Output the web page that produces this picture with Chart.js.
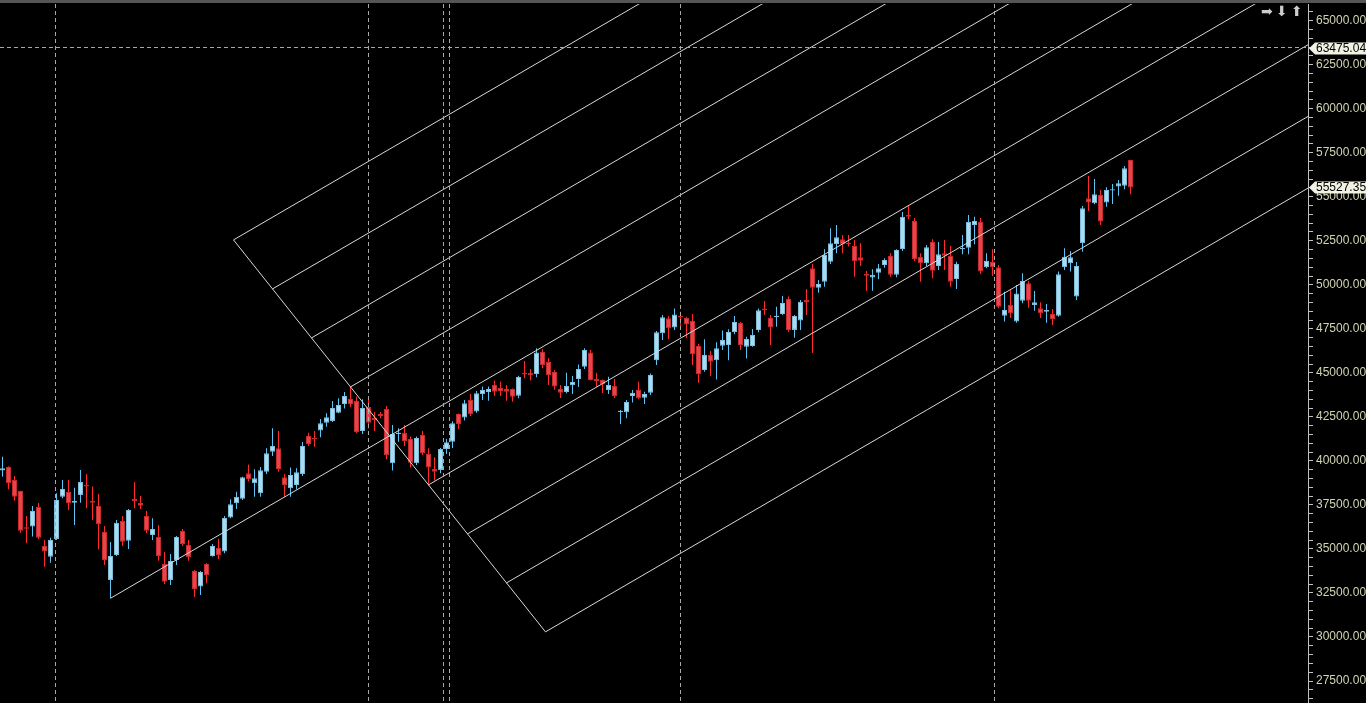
<!DOCTYPE html>
<html lang="en">
<head>
<meta charset="UTF-8">
<title>Candlestick chart with Fibonacci channel</title>
<script src="https://cdn.jsdelivr.net/npm/chart.js@4.4.1/dist/chart.umd.min.js"></script>
<style>
  html, body { margin: 0; padding: 0; background: #000; overflow: hidden; }
  #topBar { position: absolute; left: 0; top: 0; width: 1366px; height: 3px; background: #555555; }
  #chartBox { position: absolute; left: 0; top: 4px; width: 1366px; height: 699px; }
  .nav { position: absolute; top: 3px; color: #cccccc; font: 14px "DejaVu Sans"; line-height: 16px; }
</style>
</head>
<body>
<div id="topBar"></div>
<div id="chartBox"><canvas id="priceChart"></canvas></div>
<span class="nav" style="left:1261px">➡</span>
<span class="nav" style="left:1276px">⬇</span>
<span class="nav" style="left:1291px">⬆</span>
<script>
// OHLC per bar (bar 0 = leftmost)
const opens = [39450,39660,38920,38290,36230,36270,37380,35170,34560,35570,37960,38240,37630,38070,38630,37720,37440,35960,33240,34660,
  36590,35470,37850,37610,36870,35790,35680,34150,33240,34370,36020,35230,33750,32860,34150,34600,35060,34850,36780,37590,
  37850,39300,38730,38160,39390,40520,40720,39070,38450,38630,39260,41420,41300,41720,42170,42270,42740,43230,43520,43400,
  41700,43060,42440,42670,42950,39870,41530,41600,41250,39870,41470,40390,39540,39490,40670,41090,42670,42470,43460,42800,
  43800,43910,44310,44140,44080,44080,43700,45010,45010,44940,46190,45620,45050,44080,43910,44290,44650,45350,46150,44650,
  44600,44030,44250,42780,42760,43690,44060,43590,43870,45710,47250,48100,47570,48230,48120,47950,46530,45160,46010,45710,
  46540,46580,47320,47830,46480,46520,47440,48660,48120,48160,48340,49200,47440,47980,49140,50940,49840,50180,51310,52320,
  52590,52390,52210,51560,50620,50420,50690,51120,51640,50570,52040,53970,53630,51580,51220,52430,51070,51790,51640,50330,
  52020,52110,53400,53570,51000,51300,51000,48250,48860,47910,49100,50090,48860,48670,48470,48340,48250,51000,51220,49330,
  52360,54910,54630,55100,54670,55350,55580,55630,57090];
const highs = [40240,39690,39140,38310,36870,37440,37610,35510,35640,38160,38920,38920,38480,39490,39260,38540,38120,36300,35400,36650,
  36870,37270,38800,38010,37160,36740,36360,34830,34710,35740,36130,35510,33810,33750,34200,35280,35570,36870,37820,38250,
  39100,39800,39520,39660,40720,41850,41700,39260,39620,39580,41080,41600,41700,42380,42700,43400,43560,43910,44220,43650,
  43500,43690,42780,42780,43120,42040,41850,42040,41380,41380,41700,40720,40210,40730,41250,42250,42690,43460,43800,43970,
  44220,44220,44560,44500,44310,44110,44840,45680,45220,46400,46340,45850,45160,44310,45010,44820,45470,46400,46300,45010,
  44630,44780,44650,42890,43460,44030,44500,43930,44970,47380,48290,48230,48650,48470,48190,48340,46640,46910,46240,46740,
  47400,47470,48230,47890,47050,47490,48660,49080,48290,48760,49370,49330,48290,49140,49760,51180,50280,52020,53210,53400,
  52830,52830,52550,52360,50790,50880,51180,51510,51790,52020,54140,54490,53800,51790,52260,52590,52430,52550,52210,51310,
  52830,53970,53870,53800,51790,52020,51130,49610,49710,49990,50660,50220,49650,49010,48910,48630,50750,52080,51920,51300,
  54480,56180,56010,55390,55540,55730,55950,56750,57110];
const lows = [39100,38390,37740,35920,35320,35700,35550,33990,34220,35510,37880,37210,36360,37630,37310,36650,34980,34090,32200,34600,
  35170,35000,37310,37270,35910,35510,34330,33010,32950,34090,35170,34330,32270,32390,33050,34560,34430,34750,36740,37270,
  37780,38830,37970,37970,39260,40280,39390,37970,37970,38390,39140,40850,40810,41340,41940,42210,42700,42970,43050,41570,
  41530,41850,41700,42420,40090,39450,41090,40850,39620,39770,40340,38630,38880,39300,40390,40730,41810,42290,42550,42740,
  43460,43420,43700,43690,43420,43360,43560,44690,44560,44750,45260,44310,44040,43570,43840,43800,44190,45220,44560,44210,
  43860,43800,43570,42100,42420,43310,43500,43230,43740,45450,46870,46910,47440,47430,46970,45450,44440,45070,44820,44630,
  46300,45710,47190,46300,45820,46480,47310,48290,46580,47620,48290,47320,47000,47430,48290,46130,49550,49890,51180,51790,
  51790,52170,50460,51070,49650,49670,50320,50970,50460,50430,51920,53720,51350,50180,51070,50370,50840,50840,49890,49760,
  51730,51730,52300,50620,50940,50500,48670,47910,48120,47850,48950,48700,48530,48120,47850,47720,48190,50840,50750,49140,
  51880,54190,54570,53400,54440,54590,55060,55430,55150];
const closes = [39580,38730,37970,36040,36150,37160,35640,34850,35510,37780,38410,37590,37720,38800,38540,37630,36420,34370,34600,36490,
  35410,37210,37720,37460,36040,36130,34600,33140,34320,35680,35280,34530,32730,33690,33520,35170,34660,36760,37540,37960,
  39070,38960,39010,39470,40430,40850,39540,38630,39200,39350,40850,40960,41230,42140,42480,43010,43180,43690,43230,41640,
  43010,42170,42320,42550,40340,41530,41600,41130,39900,41300,40430,39620,39390,40670,41060,42140,42100,43270,42670,43840,
  44030,44080,43930,43970,43930,43650,44770,44900,44860,46150,45450,44880,44220,43870,44250,44480,45220,46300,44600,44540,
  44370,44310,43690,42850,43350,43870,43560,43800,44880,47300,48160,47530,48320,48160,47740,46070,44920,46010,45630,46400,
  46870,47320,47890,46580,46920,47150,48550,48550,47570,48250,48970,47430,48230,49040,48990,49840,50050,51700,52360,52700,
  52300,52300,51340,51370,50520,50570,50940,51410,50570,51980,53870,53870,51470,51220,52130,50800,51730,51650,50180,51180,
  52090,53570,53630,50750,51350,51000,48760,48570,48390,49510,50220,49100,49010,48390,48570,48060,50600,51600,51560,51070,
  54350,54670,55140,53590,55390,55430,55770,56620,55527.35];

// visible window (bars) and price range of the plot, axis tick step
const barWindow = [-0.4167, 217.5833];
const priceWindow = [26250.8, 65948.4];
const tickStep = 500;
const labelStep = 2500;

// Fibonacci channel: base segment (bar, price), slope in points per bar, 9 levels
const channelBaseBars = [38.5, 90.5];
const channelBasePrices = [52550, 30290];
const channelSlope = 198.3;
const channelLevels = 9;
const pivotBar = 18;          // middle level is extended back to this bar's low

// vertical separators (bar position) and horizontal price line
const separatorBars = [8.83, 61, 73.5, 74.5, 113, 165.33];
const priceLine = 63475.04;
const markerPrices = [63475.04, 55527.35];

const bull = { fill: '#aadcf0', edge: '#80bcd8', wick: '#5cc4f5' };
const bear = { fill: '#e8444a', edge: '#c42c32', wick: '#ff2a2a' };
const isUp = i => closes[i] >= opens[i];

const bodies = opens.map((o, i) => ({ x: i, y: [o, closes[i]] }));
const wicks = lows.map((l, i) => ({ x: i, y: [l, highs[i]] }));

const lineStyle = { type: 'line', borderColor: '#d8d8d8', borderWidth: 1, pointRadius: 0, order: 0, tension: 0 };
const channelSets = [];
const farBar = barWindow[1] + 20;
for (let i = 0; i < channelLevels; i++) {
  const t = i / (channelLevels - 1);
  const bx = channelBaseBars[0] + (channelBaseBars[1] - channelBaseBars[0]) * t;
  const by = channelBasePrices[0] + (channelBasePrices[1] - channelBasePrices[0]) * t;
  const sx = i === (channelLevels - 1) / 2 ? pivotBar : bx;
  channelSets.push(Object.assign({
    data: [{ x: sx, y: by + (sx - bx) * channelSlope }, { x: farBar, y: by + (farBar - bx) * channelSlope }]
  }, lineStyle));
}
channelSets.push(Object.assign({
  data: [{ x: channelBaseBars[0], y: channelBasePrices[0] }, { x: channelBaseBars[1], y: channelBasePrices[1] }]
}, lineStyle));

const overlays = {
  id: 'overlays',
  afterDatasetsDraw(chart) {
    const { ctx, chartArea: a, scales: { x, y } } = chart;
    ctx.save();
    ctx.beginPath();
    ctx.rect(a.left, a.top, a.right - a.left, a.bottom - a.top);
    ctx.clip();
    ctx.strokeStyle = '#a8a8a8';
    ctx.lineWidth = 1;
    ctx.setLineDash([4, 3]);
    separatorBars.forEach(b => {
      const px = Math.floor(x.getPixelForValue(b)) + 0.5;
      ctx.beginPath();
      ctx.moveTo(px, a.top);
      ctx.lineTo(px, a.bottom);
      ctx.stroke();
    });
    const py = Math.floor(y.getPixelForValue(priceLine)) + 0.5;
    ctx.beginPath();
    ctx.moveTo(a.left, py);
    ctx.lineTo(a.right, py);
    ctx.stroke();
    ctx.restore();
  },
  afterDraw(chart) {
    const { ctx, chartArea: a, scales: { y } } = chart;
    ctx.save();
    ctx.font = '12px "Liberation Sans"';
    ctx.textBaseline = 'middle';
    markerPrices.forEach(p => {
      const py = Math.round(y.getPixelForValue(p)) + 0.5;
      const x0 = a.right + 1;
      ctx.beginPath();
      ctx.moveTo(x0, py);
      ctx.lineTo(x0 + 6, py - 6);
      ctx.lineTo(chart.width, py - 6);
      ctx.lineTo(chart.width, py + 6);
      ctx.lineTo(x0 + 6, py + 6);
      ctx.closePath();
      ctx.fillStyle = '#f2f2e4';
      ctx.fill();
      ctx.fillStyle = '#000';
      ctx.fillText(p.toFixed(2), x0 + 7, py + 0.5);
    });
    ctx.restore();
  }
};

new Chart(document.getElementById('priceChart'), {
  type: 'bar',
  data: {
    datasets: [
      {
        data: bodies, order: 1, grouped: false, barThickness: 5, inflateAmount: 0,
        borderWidth: 1, borderSkipped: false,
        backgroundColor: c => isUp(c.dataIndex) ? bull.fill : bear.fill,
        borderColor: c => isUp(c.dataIndex) ? bull.edge : bear.edge
      },
      {
        data: wicks, order: 2, grouped: false, barThickness: 1, inflateAmount: 0, borderWidth: 0,
        backgroundColor: c => isUp(c.dataIndex) ? bull.wick : bear.wick
      },
      ...channelSets
    ]
  },
  options: {
    responsive: true,
    maintainAspectRatio: false,
    animation: false,
    events: [],
    layout: { padding: 0 },
    plugins: { legend: { display: false }, tooltip: { enabled: false } },
    scales: {
      x: { type: 'linear', display: false, offset: false, min: barWindow[0], max: barWindow[1] },
      y: {
        position: 'right',
        min: priceWindow[0],
        max: priceWindow[1],
        afterBuildTicks: s => {
          const t = [];
          for (let v = Math.ceil(s.min / tickStep) * tickStep; v <= s.max; v += tickStep) t.push({ value: v });
          s.ticks = t;
        },
        afterFit: s => { s.width = 58; s.paddingTop = 0; s.paddingBottom = 0; },
        border: { display: true, color: '#c0c0c0', width: 1 },
        grid: { drawOnChartArea: false, drawTicks: true, tickLength: 5, tickColor: '#c0c0c0' },
        ticks: {
          autoSkip: false, padding: 3,
          color: '#d4d4b2',
          font: { family: 'Liberation Sans', size: 12 },
          callback: v => (v % labelStep === 0 ? v.toFixed(2) : '')
        }
      }
    }
  },
  plugins: [overlays]
});
</script>
</body>
</html>
